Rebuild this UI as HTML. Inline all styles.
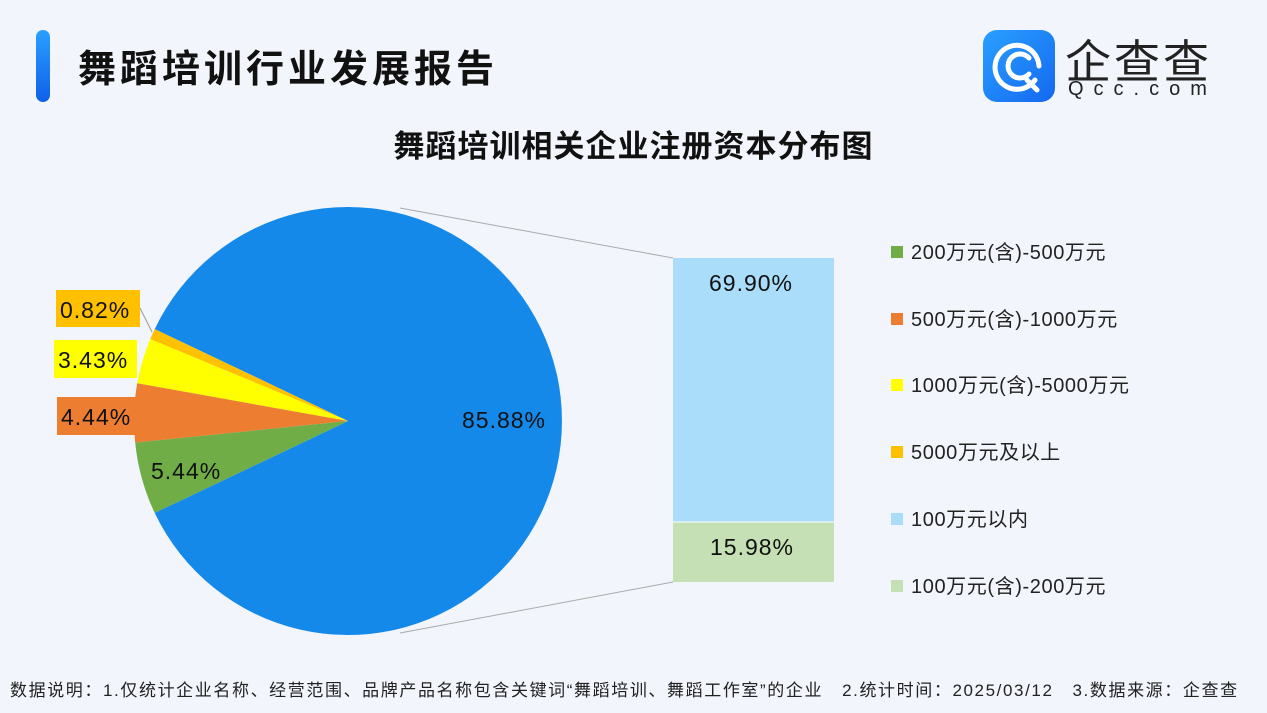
<!DOCTYPE html><html><head><meta charset="utf-8"><style>
body{margin:0;width:1267px;height:713px;overflow:hidden;background:#f2f5fc;font-family:"Liberation Sans","Noto Sans CJK SC",sans-serif;position:relative}
.a{position:absolute;white-space:nowrap}
</style></head><body>
<div class="a" style="left:36px;top:30px;width:14px;height:72px;border-radius:7px;background:linear-gradient(#2aa0ff,#1060e8)"></div>
<div class="a" style="left:78px;top:38px;font-size:38px;font-weight:bold;color:#111;letter-spacing:4px">舞蹈培训行业发展报告</div>
<div class="a" style="left:983px;top:30px;width:72px;height:72px;border-radius:14px;background:linear-gradient(135deg,#2aa0ff,#1468f0)"></div>
<svg class="a" style="left:983px;top:30px" width="72" height="72"><g fill="none" stroke="#fff" stroke-width="5" stroke-linecap="round"><path d="M52 50 A22 22 0 1 1 56 36"/><path d="M46 28 A12 12 0 1 0 46 44"/><path d="M44 50 L54 60"/></g></svg>
<div class="a" style="left:1065px;top:26px;font-size:46px;color:#222;letter-spacing:3px">企查查</div>
<div class="a" style="left:1068px;top:78px;font-size:20px;color:#222;letter-spacing:10px">Qcc.com</div>
<div class="a" style="left:0;width:1267px;top:121px;text-align:center;font-size:31px;font-weight:bold;color:#111;letter-spacing:1px">舞蹈培训相关企业注册资本分布图</div>
<svg class="a" style="left:0;top:0" width="1267" height="713">
<line x1="400" y1="208" x2="673" y2="258" stroke="#aaa" stroke-width="1"/>
<line x1="400" y1="633" x2="673" y2="582" stroke="#aaa" stroke-width="1"/>
<path d="M348 421 L154.7 329.1 A214 214 0 1 1 154.7 512.9 Z" fill="#1589ea"/>
<path d="M348 421 L154.7 329.1 A214 214 0 0 0 150.2 339.1 Z" fill="#ffc000"/>
<path d="M348 421 L150.2 339.1 A214 214 0 0 0 137.2 383.3 Z" fill="#ffff00"/>
<path d="M348 421 L137.2 383.3 A214 214 0 0 0 135.2 442.6 Z" fill="#ed7d31"/>
<path d="M348 421 L135.2 442.6 A214 214 0 0 0 154.7 512.9 Z" fill="#70ad47"/>
<line x1="140" y1="308" x2="152" y2="332" stroke="#999"/>
<rect x="673" y="258" width="161" height="264" fill="#a9ddf9"/>
<rect x="673" y="522" width="161" height="60" fill="#c5e0b4"/>
<line x1="673" y1="522" x2="834" y2="522" stroke="#fff"/>
<rect x="56" y="290" width="84" height="37" fill="#ffc000"/>
<rect x="54" y="340" width="83" height="38" fill="#ffff00"/>
<rect x="57" y="397" width="83" height="38" fill="#ed7d31"/>
<g font-family="Liberation Sans" font-size="23" fill="#111" letter-spacing="1">
<text x="60" y="318">0.82%</text><text x="58" y="368">3.43%</text><text x="61" y="425">4.44%</text>
<text x="151" y="479">5.44%</text><text x="462" y="428">85.88%</text>
<text x="709" y="291">69.90%</text><text x="710" y="555">15.98%</text>
</g>
<g font-family="Liberation Sans,Noto Sans CJK SC,sans-serif" font-size="20" fill="#222" letter-spacing="0.6">
<rect x="891" y="246" width="12" height="12" fill="#70ad47"/><text x="911" y="259">200万元(含)-500万元</text>
<rect x="891" y="313" width="12" height="12" fill="#ed7d31"/><text x="911" y="326">500万元(含)-1000万元</text>
<rect x="891" y="379" width="12" height="12" fill="#ffff00"/><text x="911" y="392">1000万元(含)-5000万元</text>
<rect x="891" y="446" width="12" height="12" fill="#ffc000"/><text x="911" y="459">5000万元及以上</text>
<rect x="891" y="513" width="12" height="12" fill="#a9ddf9"/><text x="911" y="526">100万元以内</text>
<rect x="891" y="580" width="12" height="12" fill="#c5e0b4"/><text x="911" y="593">100万元(含)-200万元</text>
</g>
</svg>
<div class="a" style="left:10px;top:676px;font-size:17px;color:#222;letter-spacing:1.6px">数据说明：1.仅统计企业名称、经营范围、品牌产品名称包含关键词“舞蹈培训、舞蹈工作室”的企业&nbsp;&nbsp;&nbsp;2.统计时间：2025/03/12&nbsp;&nbsp;&nbsp;3.数据来源：企查查</div>
</body></html>
